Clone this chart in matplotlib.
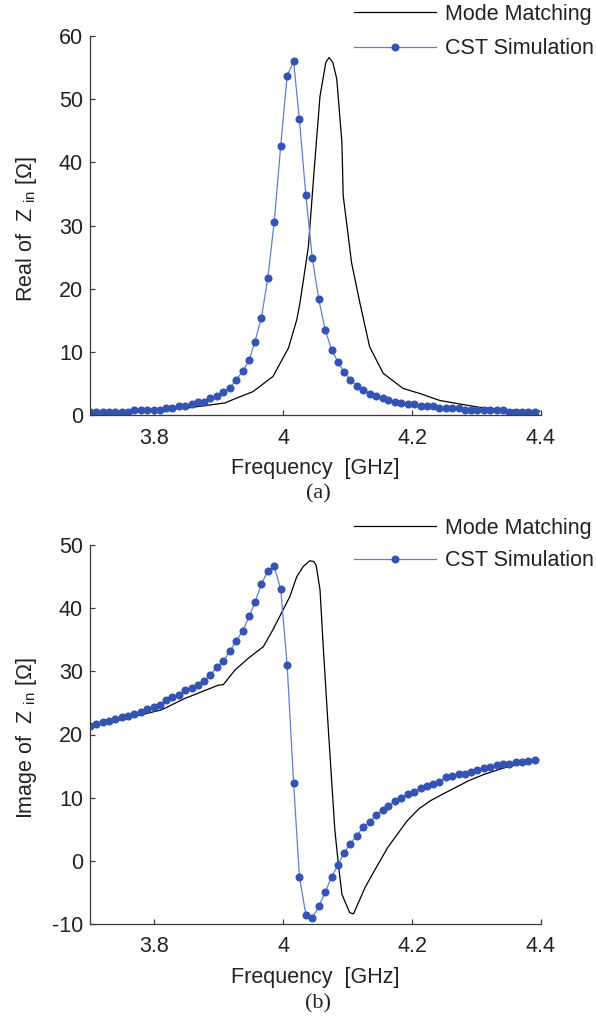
import matplotlib
matplotlib.use("Agg")
import matplotlib.pyplot as plt
import numpy as np

# ---------------- data ----------------
# CST sweep frequencies (GHz)
f_cst = [3.700, 3.710, 3.720, 3.730, 3.739, 3.749, 3.759, 3.769, 3.779, 3.789,
         3.799, 3.808, 3.818, 3.828, 3.838, 3.848, 3.858, 3.868, 3.877, 3.887,
         3.897, 3.907, 3.917, 3.927, 3.937, 3.947, 3.956, 3.966, 3.976, 3.986,
         3.996, 4.006, 4.016, 4.025, 4.035, 4.045, 4.055, 4.065, 4.075, 4.085,
         4.094, 4.104, 4.114, 4.124, 4.134, 4.144, 4.154, 4.163, 4.173, 4.183,
         4.193, 4.203, 4.213, 4.223, 4.232, 4.242, 4.252, 4.262, 4.272, 4.282,
         4.292, 4.301, 4.311, 4.321, 4.331, 4.341, 4.351, 4.361, 4.370, 4.380,
         4.390]

re_cst = [0.5, 0.5, 0.5, 0.5, 0.5, 0.5, 0.5, 0.8, 0.8, 0.8,
          0.8, 0.8, 1.1, 1.1, 1.4, 1.4, 1.7, 2.1, 2.1, 2.7,
          3.0, 3.6, 4.3, 5.6, 6.9, 8.7, 11.6, 15.4, 21.7, 30.6,
          42.6, 53.7, 56.0, 46.8, 34.8, 24.9, 18.3, 13.5, 10.3, 8.4,
          6.8, 5.6, 4.6, 4.0, 3.4, 3.0, 2.7, 2.4, 2.1, 1.9,
          1.75, 1.7, 1.4, 1.4, 1.4, 1.1, 1.1, 1.1, 1.1, 0.8,
          0.8, 0.8, 0.8, 0.8, 0.8, 0.8, 0.5, 0.5, 0.5, 0.5,
          0.5]

im_cst = [21.3, 21.6, 21.9, 22.2, 22.5, 22.8, 23.0, 23.2, 23.5, 24.1,
          24.4, 24.7, 25.4, 26.0, 26.3, 27.0, 27.3, 27.9, 28.5, 29.4,
          30.7, 31.6, 33.2, 34.8, 36.4, 38.7, 40.9, 43.8, 45.9, 46.6,
          43.0, 31.0, 12.4, -2.5, -8.5, -9.1, -7.2, -5.0, -2.5, -0.7,
          1.2, 2.7, 4.0, 5.3, 6.2, 7.2, 8.1, 8.7, 9.4, 10.0,
          10.6, 10.9, 11.6, 11.9, 12.2, 12.5, 13.2, 13.5, 13.8, 13.8,
          14.1, 14.4, 14.7, 14.9, 15.1, 15.3, 15.4, 15.6, 15.7, 15.8,
          16.0]

# Mode matching (GHz, Ohm)
f_mm_re = [3.700, 3.750, 3.798, 3.850, 3.880, 3.909, 3.933, 3.953, 3.984, 4.008,
           4.021, 4.026, 4.036, 4.039, 4.048, 4.057, 4.066, 4.071, 4.077, 4.083,
           4.091, 4.093, 4.106, 4.119, 4.134, 4.155, 4.186, 4.212, 4.243, 4.305,
           4.352, 4.398]
re_mm = [0.3, 0.5, 0.8, 1.1, 1.5, 1.9, 2.9, 3.7, 6.1, 10.6,
         15.1, 17.8, 24.6, 26.7, 38.9, 50.5, 55.8, 56.6, 55.8, 53.2,
         43.1, 34.7, 24.1, 17.7, 10.8, 6.6, 4.2, 3.4, 2.3, 1.2,
         0.8, 0.6]

f_mm_im = [3.704, 3.759, 3.811, 3.847, 3.899, 3.907, 3.925, 3.946, 3.969, 3.984,
           3.997, 4.010, 4.021, 4.031, 4.041, 4.047, 4.051, 4.057, 4.062, 4.070,
           4.080, 4.086, 4.091, 4.103, 4.109, 4.118, 4.127, 4.144, 4.162, 4.177,
           4.192, 4.210, 4.228, 4.252, 4.288, 4.312, 4.342, 4.366, 4.396]
im_mm = [21.3, 22.6, 23.9, 25.7, 27.8, 27.9, 30.2, 32.1, 33.9, 36.6,
         39.2, 41.8, 45.0, 46.6, 47.5, 47.4, 46.8, 42.9, 33.9, 20.7,
         4.9, -1.0, -5.3, -8.2, -8.4, -6.3, -4.2, -1.1, 2.1, 4.2,
         6.3, 8.2, 9.5, 10.8, 12.7, 13.7, 14.7, 15.3, 15.8]

x_ticks = [3.8, 4.0, 4.2, 4.4]
x_ticklabels = ["3.8", "4", "4.2", "4.4"]
labels = ["Mode Matching", "CST Simulation"]

# ---------------- style ----------------
plt.rcParams['font.family'] = ['Liberation Sans', 'DejaVu Sans']
plt.rcParams['mathtext.fontset'] = 'custom'
plt.rcParams['mathtext.rm'] = 'Liberation Sans'
plt.rcParams['mathtext.it'] = 'Liberation Sans:italic'

TXT = '#222222'
SPINE = '#3a3a3a'
LINE_B = '#5f7fd0'
MARK_B = '#3454b4'
FS = 15.5

W, H = 596, 1018
fig = plt.figure(figsize=(W / 100, H / 100), dpi=100)

def px_axes(left, top, right, bottom):
    return [left / W, 1 - bottom / H, (right - left) / W, (bottom - top) / H]

ax1 = fig.add_axes(px_axes(90, 36, 541, 415))
ax2 = fig.add_axes(px_axes(90, 545, 541, 924))

def style(ax, ylim, yticks, ylabel, leg_top, leg_space):
    ax.set_xlim(3.7, 4.4)
    ax.set_ylim(*ylim)
    ax.set_xticks(x_ticks)
    ax.set_xticklabels(x_ticklabels)
    ax.set_yticks(yticks)
    ax.set_yticklabels([str(v) for v in yticks])
    for s in ['top', 'right']:
        ax.spines[s].set_visible(False)
    for s in ['left', 'bottom']:
        ax.spines[s].set_color(SPINE)
        ax.spines[s].set_linewidth(0.9)
    ax.tick_params(axis='both', direction='in', length=3.5, width=0.9,
                   color=SPINE, labelsize=FS, labelcolor=TXT)
    ax.tick_params(axis='x', pad=9)
    ax.tick_params(axis='y', pad=5)
    ax.set_xlabel("Frequency  [GHz]", fontsize=FS, color=TXT, labelpad=7)
    ax.set_ylabel(ylabel, fontsize=FS, color=TXT)
    ax.yaxis.set_label_coords(-0.112, 0.49)
    leg = ax.legend(labels, loc='upper left', bbox_to_anchor=(354 / W, 1 - leg_top / H),
                    bbox_transform=fig.transFigure, frameon=False, fontsize=FS,
                    handlelength=3.8, handletextpad=0.45, borderpad=0,
                    borderaxespad=0, labelspacing=leg_space, numpoints=1)
    for t in leg.get_texts():
        t.set_color(TXT)

ax1.plot(f_mm_re, re_mm, color='black', lw=0.9)
ax1.plot(f_cst, re_cst, color=LINE_B, lw=0.9, marker='o', markersize=4.8,
         markerfacecolor=MARK_B, markeredgecolor=MARK_B)
style(ax1, (0, 60), [0, 10, 20, 30, 40, 50, 60], r"Real of  Z $_{\mathrm{in}}$ [Ω]", 4, 0.62)

ax2.plot(f_mm_im, im_mm, color='black', lw=0.9)
ax2.plot(f_cst, im_cst, color=LINE_B, lw=0.9, marker='o', markersize=4.8,
         markerfacecolor=MARK_B, markeredgecolor=MARK_B)
style(ax2, (-10, 50), [-10, 0, 10, 20, 30, 40, 50], r"Image of  Z $_{\mathrm{in}}$ [Ω]", 518, 0.52)

fig.text(318 / W, 1 - 494 / H, "(a)", ha='center', va='center', fontsize=16,
         family='Liberation Serif', color=TXT)
fig.text(318 / W, 1 - 1004 / H, "(b)", ha='center', va='center', fontsize=16,
         family='Liberation Serif', color=TXT)

fig.savefig("out.png", dpi=100)
